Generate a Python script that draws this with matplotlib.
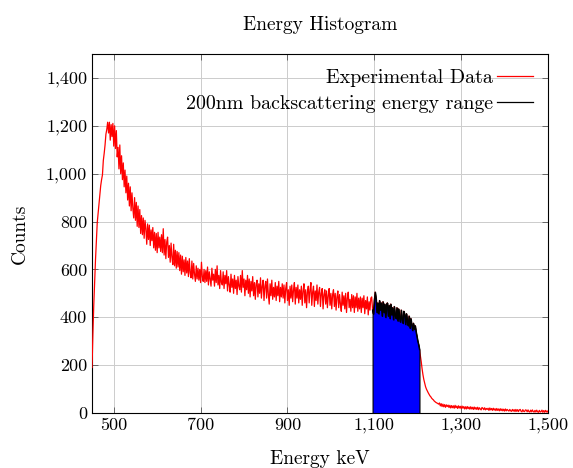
import numpy as np
import matplotlib
matplotlib.use("Agg")
import matplotlib.pyplot as plt

plt.rcParams['font.family'] = ['cmr10', 'DejaVu Serif']
plt.rcParams['axes.formatter.use_mathtext'] = True

# Histogram bins: 2 keV wide, from 450 keV to 1500 keV
bin_start = 450
bin_width = 2
counts = [
    190, 330, 450, 545, 640, 715, 795, 835, 880, 915,
    950, 975, 995, 1055, 1085, 1120, 1165, 1185, 1215, 1170,
    1215, 1140, 1205, 1155, 1210, 1115, 1200, 1105, 1180, 1070,
    1110, 1020, 1120, 1000, 1075, 975, 1045, 945, 1015, 920,
    990, 890, 960, 865, 945, 845, 920, 855, 815, 900,
    805, 880, 780, 865, 775, 850, 750, 825, 745, 815,
    730, 805, 770, 705, 790, 725, 785, 700, 765, 720,
    775, 690, 755, 680, 750, 670, 755, 690, 735, 675,
    745, 670, 770, 660, 725, 645, 715, 735, 650, 700,
    630, 710, 650, 620, 705, 615, 680, 605, 675, 610,
    670, 595, 660, 580, 655, 590, 640, 575, 650, 585,
    635, 570, 645, 585, 565, 635, 560, 625, 580, 550,
    615, 560, 605, 555, 600, 545, 630, 570, 550, 600,
    545, 595, 550, 610, 535, 590, 560, 530, 605, 555,
    580, 530, 600, 545, 615, 535, 575, 520, 595, 545,
    535, 590, 520, 575, 540, 595, 510, 570, 535, 505,
    580, 525, 560, 500, 575, 520, 555, 495, 570, 530,
    515, 575, 505, 595, 525, 560, 490, 555, 515, 575,
    500, 560, 485, 550, 510, 570, 490, 545, 475, 540,
    555, 485, 540, 500, 565, 480, 530, 555, 470, 530,
    550, 480, 560, 495, 455, 540, 490, 555, 475, 525,
    485, 545, 470, 530, 490, 550, 465, 525, 485, 540,
    480, 535, 460, 520, 545, 470, 515, 450, 530, 480,
    535, 465, 515, 545, 455, 525, 480, 535, 460, 515,
    475, 530, 450, 510, 540, 460, 515, 440, 505, 530,
    460, 515, 545, 450, 505, 530, 445, 510, 470, 535,
    455, 505, 525, 445, 500, 520, 435, 495, 515, 455,
    510, 440, 490, 520, 450, 500, 435, 495, 515, 445,
    500, 430, 485, 510, 440, 495, 455, 425, 505, 450,
    490, 435, 500, 420, 480, 505, 440, 475, 425, 495,
    440, 490, 420, 485, 440, 500, 425, 480, 435, 485,
    420, 480, 440, 490, 415, 470, 435, 485, 410, 465,
    430, 480, 485, 430, 415, 470, 505, 475, 420, 460,
    415, 470, 430, 460, 405, 465, 420, 455, 400, 450,
    460, 405, 450, 395, 455, 410, 440, 390, 445, 405,
    395, 440, 385, 435, 400, 380, 430, 390, 375, 425,
    410, 370, 415, 380, 365, 405, 355, 395, 370, 345,
    375, 350, 365, 340, 320, 300, 285, 265, 240, 215,
    185, 160, 140, 125, 110, 100, 92, 85, 78, 72,
    68, 62, 58, 55, 50, 47, 44, 42, 40, 37,
    42, 30, 39, 27, 37, 26, 35, 24, 34, 27,
    33, 23, 32, 21, 31, 22, 30, 20, 32, 22,
    29, 19, 30, 21, 28, 18, 29, 20, 27, 17,
    26, 17, 27, 18, 25, 16, 26, 17, 24, 15,
    25, 16, 23, 15, 24, 14, 22, 17, 13, 23,
    20, 14, 22, 13, 19, 15, 20, 11, 21, 13,
    19, 11, 20, 12, 18, 10, 19, 11, 17, 9,
    18, 10, 17, 9, 16, 8, 17, 9, 15, 11,
    8, 15, 9, 7, 15, 8, 14, 6, 15, 7,
    14, 6, 13, 15, 7, 5, 14, 7, 6, 13,
    12, 5, 13, 6, 4, 12, 5, 13, 6, 4,
    11, 4, 12, 5, 3, 11, 4, 6, 12, 3,
    10, 3, 11, 4, 9, 3,
]
window_lo = 1095
window_hi = 1205

x_ticks = [500, 700, 900, 1100, 1300, 1500]
x_tick_labels = ["500", "700", "900", "1,100", "1,300", "1,500"]
y_ticks = [0, 200, 400, 600, 800, 1000, 1200, 1400]
y_tick_labels = ["0", "200", "400", "600", "800", "1,000", "1,200", "1,400"]

counts = np.array(counts, dtype=float)
energy = bin_start + bin_width * np.arange(len(counts))

fig = plt.figure(figsize=(5.73, 4.68), dpi=100)
ax = fig.add_axes([0.1606, 0.1175, 0.7958, 0.7671])

ax.plot(energy, counts, color='red', lw=0.9, label='Experimental Data', zorder=3)
m = (energy >= window_lo) & (energy <= window_hi)
ax.fill_between(energy[m], 0, counts[m], facecolor='blue', edgecolor='black',
                lw=0.8, zorder=4)
ax.plot(energy[m], counts[m], color='black', lw=0.9,
        label='200nm backscattering energy range', zorder=5)

ax.set_xlim(450, 1500)
ax.set_ylim(0, 1500)
ax.set_xticks(x_ticks)
ax.set_xticklabels(x_tick_labels)
ax.set_yticks(y_ticks)
ax.set_yticklabels(y_tick_labels)
ax.tick_params(direction='in', top=True, right=True, labelsize=13,
               color='#555555', length=4, width=0.6)
ax.grid(True, color='#cccccc', lw=0.7)
ax.set_axisbelow(True)
for s in ax.spines.values():
    s.set_linewidth(0.8)

ax.set_title('Energy Histogram', fontsize=14, pad=17)
ax.set_xlabel('Energy keV', fontsize=14, labelpad=12)
ax.set_ylabel('Counts', fontsize=14, labelpad=12)

ax.legend(loc='upper right', frameon=False, markerfirst=False, fontsize=14.4,
          handlelength=1.8, handletextpad=0.2, borderaxespad=0.35,
          labelspacing=0.42)

fig.savefig('out.png', dpi=100)
